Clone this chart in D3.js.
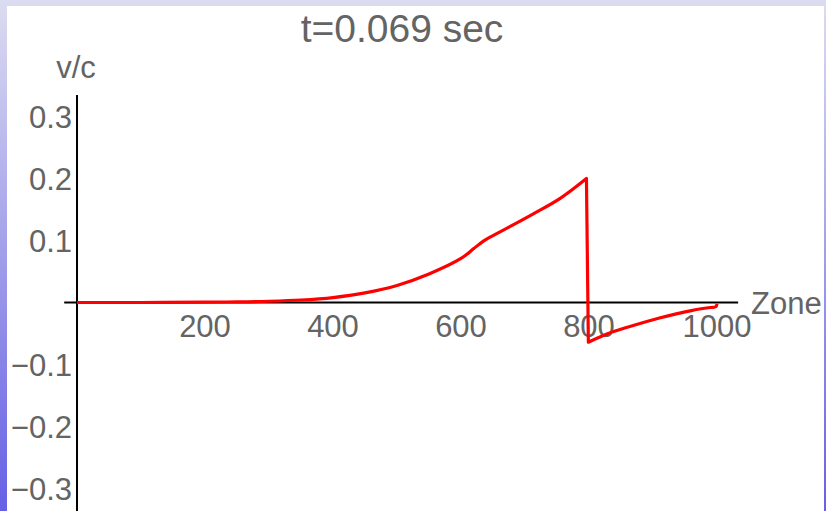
<!DOCTYPE html>
<html>
<head>
<meta charset="utf-8">
<script src="https://cdn.jsdelivr.net/npm/d3@7"></script>
<style>
  html, body { margin: 0; padding: 0; overflow: hidden; }
  text { font-family: "Liberation Sans", Arial, sans-serif; fill: #646464; }
</style>
</head>
<body>
<div id="chart"></div>
<script>
// Data
var zones = [0, 100, 200, 250, 300, 350, 400, 450, 500, 550, 600, 620, 635, 650, 672, 713, 755, 796,
             799, 830, 860, 910, 960, 990, 998, 1000];
var velocity = [0, 0, 0.0005, 0.001, 0.002, 0.004, 0.008, 0.0155, 0.0275, 0.046, 0.071, 0.087, 0.099, 0.108, 0.12, 0.143, 0.168, 0.2,
                -0.064, -0.050, -0.040, -0.025, -0.013, -0.008, -0.007, -0.002];
var peakIndex = 17; // last point before the shock drop
var xTicks = [200, 400, 600, 800, 1000];
var yTicks = [-0.3, -0.2, -0.1, 0.1, 0.2, 0.3];
var title = "t=0.069 sec";

var width = 826, height = 511;

var svg = d3.select('#chart').append('svg')
    .attr('width', width)
    .attr('height', height);

// Frame background gradient
var grad = svg.append('defs').append('linearGradient')
    .attr('id', 'frame')
    .attr('x1', 0).attr('y1', 0).attr('x2', 0).attr('y2', 1);
grad.append('stop').attr('offset', '0%').attr('stop-color', '#dcdcf0');
grad.append('stop').attr('offset', '100%').attr('stop-color', '#6660e4');

svg.append('rect')
    .attr('width', width).attr('height', height)
    .attr('fill', 'url(#frame)');
svg.append('rect')
    .attr('x', 7).attr('y', 6)
    .attr('width', 817).attr('height', height - 6)
    .attr('fill', '#fff');

// Scales
var x = d3.scaleLinear().domain([0, 1000]).range([77, 717]);
var y = d3.scaleLinear().domain([0, 0.3]).range([302.5, 116.5]);

// Title
svg.append('text')
    .attr('x', 402).attr('y', 42)
    .attr('text-anchor', 'middle')
    .style('font-size', '39px')
    .text(title);

// Axes lines
svg.append('line')
    .attr('x1', x(-20)).attr('x2', x(1033))
    .attr('y1', y(0)).attr('y2', y(0))
    .attr('stroke', '#000').attr('stroke-width', 2);
svg.append('line')
    .attr('x1', x(0)).attr('x2', x(0))
    .attr('y1', 95).attr('y2', height)
    .attr('stroke', '#000').attr('stroke-width', 2);

// Tick labels
svg.selectAll('.xtick').data(xTicks).enter().append('text')
    .attr('class', 'xtick')
    .attr('x', function(d) { return x(d); })
    .attr('y', 337)
    .attr('text-anchor', 'middle')
    .style('font-size', '31px')
    .text(function(d) { return d; });

svg.selectAll('.ytick').data(yTicks).enter().append('text')
    .attr('class', 'ytick')
    .attr('x', 72)
    .attr('y', function(d) { return y(d); })
    .attr('dy', '0.36em')
    .attr('text-anchor', 'end')
    .style('font-size', '31px')
    .text(function(d) { return d3.format('.1f')(d).replace('-', '\u2212'); });

// Axis titles
svg.append('text')
    .attr('x', 76).attr('y', 78)
    .attr('text-anchor', 'middle')
    .style('font-size', '31px')
    .text('v/c');
svg.append('text')
    .attr('x', 751).attr('y', y(0))
    .attr('dy', '0.36em')
    .style('font-size', '31px')
    .text('Zone');

// Curve: smooth on both sides of the shock, straight drop between
var pts = zones.map(function(z, i) { return [z, velocity[i]]; });

var smooth = d3.line()
    .x(function(d) { return x(d[0]); })
    .y(function(d) { return y(d[1]); })
    .curve(d3.curveCatmullRom.alpha(0.5));

var left = smooth(pts.slice(0, peakIndex + 1));
var right = smooth(pts.slice(peakIndex + 1)).replace(/^M/, 'L');

svg.append('path')
    .attr('d', left + right)
    .attr('fill', 'none')
    .attr('stroke', '#ff0000')
    .attr('stroke-width', 3.2)
    .attr('stroke-linejoin', 'round');
</script>
</body>
</html>
